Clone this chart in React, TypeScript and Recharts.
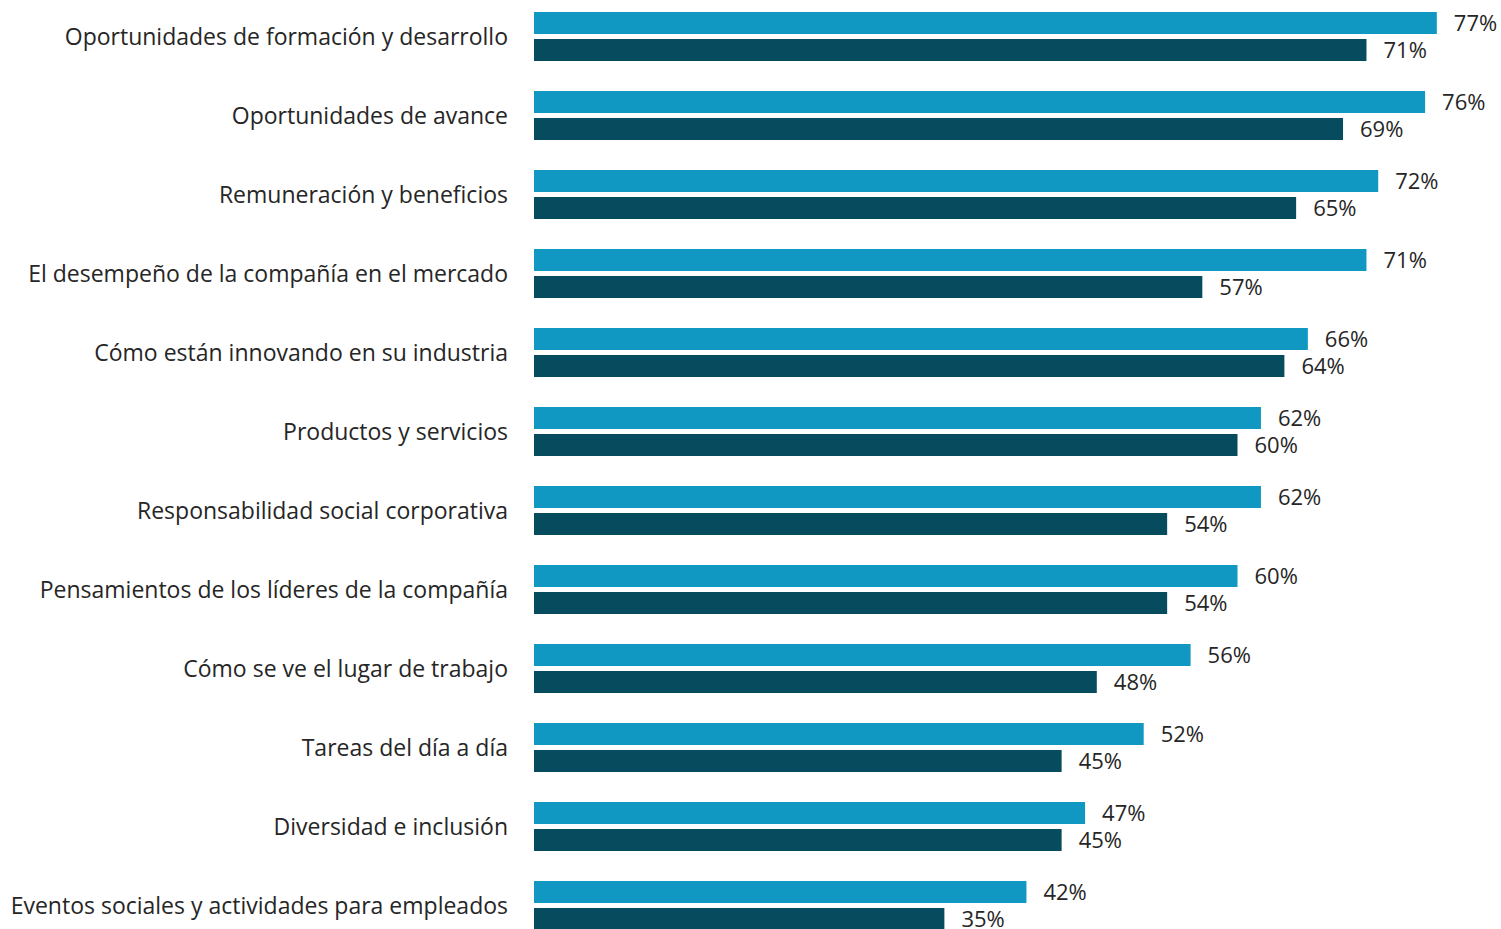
import React from 'react';
import { BarChart, Bar, XAxis, YAxis, LabelList } from 'recharts';

// categories top to bottom
const categories = [
    'Oportunidades de formación y desarrollo',
    'Oportunidades de avance',
    'Remuneración y beneficios',
    'El desempeño de la compañía en el mercado',
    'Cómo están innovando en su industria',
    'Productos y servicios',
    'Responsabilidad social corporativa',
    'Pensamientos de los líderes de la compañía',
    'Cómo se ve el lugar de trabajo',
    'Tareas del día a día',
    'Diversidad e inclusión',
    'Eventos sociales y actividades para empleados',
];

const seriesA = [77, 76, 72, 71, 66, 62, 62, 60, 56, 52, 47, 42];
const seriesB = [71, 69, 65, 57, 64, 60, 54, 54, 48, 45, 45, 35];

const LIGHT = '#1098c3';
const DARK = '#074b5f';
const TEXT = '#262626';
const FONT = '"Open Sans", "Noto Sans", sans-serif';

const data = categories.map((name, i) => ({ name, a: seriesA[i], b: seriesB[i] }));

const pct = (v: number) => `${v}%`;

export default function App() {
    return (
        <div style={{ width: 1501, height: 929, overflow: 'hidden', background: '#fff' }}>
            <style>{'body{margin:0;overflow:hidden}'}</style>
            <div style={{ marginTop: -3 }}>
                <BarChart
                    width={1501}
                    height={948}
                    data={data}
                    layout="vertical"
                    margin={{ top: 0, right: 29, bottom: 0, left: 0 }}
                    barSize={22}
                    barGap={5}
                    barCategoryGap={0}
                >
                    <XAxis type="number" domain={[0, 80]} hide />
                    <YAxis
                        type="category"
                        dataKey="name"
                        width={534}
                        axisLine={false}
                        tickLine={false}
                        tickSize={0}
                        tickMargin={26}
                        tick={{ fill: TEXT, fontSize: 23, fontFamily: FONT }}
                        interval={0}
                    />
                    <Bar dataKey="a" fill={LIGHT} isAnimationActive={false}>
                        <LabelList dataKey="a" position="right" offset={17} formatter={pct}
                            style={{ fill: TEXT, fontSize: 22, fontFamily: FONT }} />
                    </Bar>
                    <Bar dataKey="b" fill={DARK} isAnimationActive={false}>
                        <LabelList dataKey="b" position="right" offset={17} formatter={pct}
                            style={{ fill: TEXT, fontSize: 22, fontFamily: FONT }} />
                    </Bar>
                </BarChart>
            </div>
        </div>
    );
}
